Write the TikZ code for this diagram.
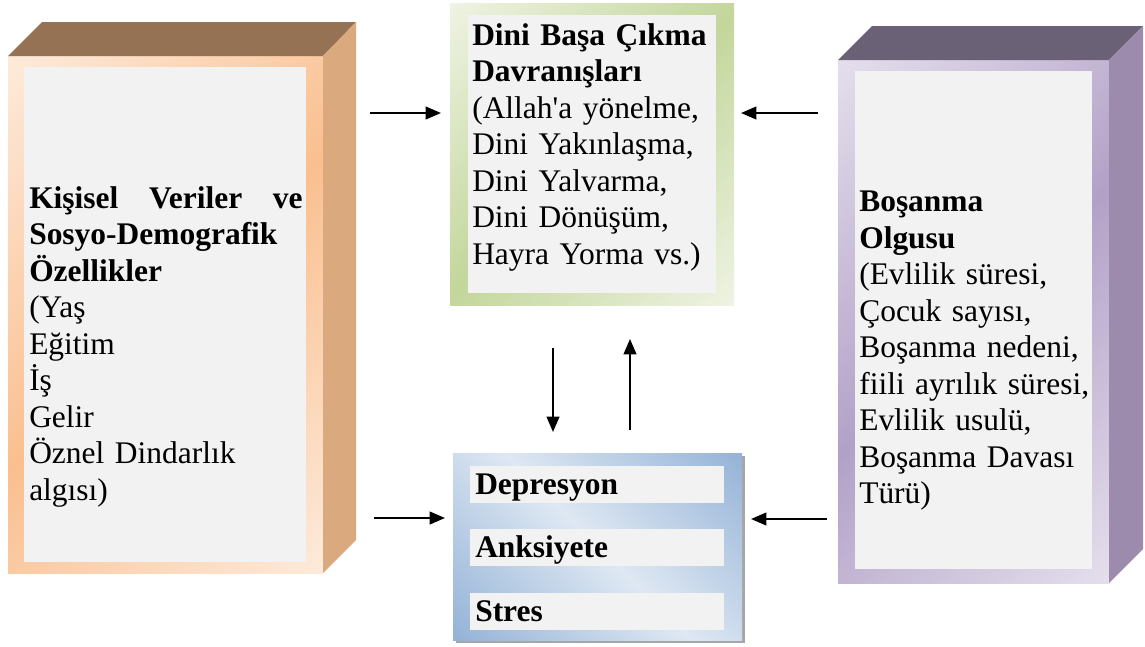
\documentclass[tikz,border=0pt]{standalone}
\usepackage{fontspec}
\setmainfont{Liberation Serif}
\usetikzlibrary{arrows.meta}
\definecolor{peachL}{RGB}{253,234,218}
\definecolor{peachD}{RGB}{250,191,143}
\definecolor{peachTop}{RGB}{149,114,84}
\definecolor{peachSide}{RGB}{219,169,126}
\definecolor{lilacL}{RGB}{228,222,236}
\definecolor{lilacD}{RGB}{178,161,199}
\definecolor{lilacTop}{RGB}{107,97,119}
\definecolor{lilacSide}{RGB}{156,139,172}
\definecolor{greenL}{RGB}{238,243,226}
\definecolor{greenD}{RGB}{195,214,155}
\definecolor{blueL}{RGB}{222,232,243}
\definecolor{blueD}{RGB}{149,179,215}
\definecolor{panel}{RGB}{242,242,242}
\pgfdeclarehorizontalshading{peachsh}{100bp}{color(0bp)=(peachL); color(15bp)=(peachL); color(50bp)=(peachD); color(85bp)=(peachL); color(100bp)=(peachL)}
\pgfdeclarehorizontalshading{lilacsh}{100bp}{color(0bp)=(lilacL); color(15bp)=(lilacL); color(50bp)=(lilacD); color(85bp)=(lilacL); color(100bp)=(lilacL)}
\pgfdeclarehorizontalshading{greensh}{100bp}{color(0bp)=(greenL); color(15bp)=(greenL); color(50bp)=(greenD); color(85bp)=(greenL); color(100bp)=(greenL)}
\pgfdeclarehorizontalshading{bluesh}{100bp}{color(0bp)=(blueD); color(15bp)=(blueD); color(50bp)=(blueL); color(85bp)=(blueD); color(100bp)=(blueD)}
\tikzset{
  oku/.style={line width=1.5pt, -{Triangle[length=11.5pt,width=9.5pt]}},
  metin/.style={anchor=base west, inner sep=0pt, align=left, font=\fontsize{23.6}{27.4}\selectfont},
  satir/.style={anchor=north west, fill=panel, inner xsep=3.75pt, inner ysep=3.4pt,
    text width=183pt, text height=18pt, text depth=3pt, align=left, font=\fontsize{23.6}{27.4}\selectfont\bfseries}
}
\begin{document}
\begin{tikzpicture}[x=0.75pt, y=-0.75pt]
    \useasboundingbox (0,0) rectangle (1145,646);
    \fill[shading=peachsh, shading angle=-45] (8,56) rectangle (323,573);
    \fill[peachTop] (8,56) -- (42,22) -- (356,22) -- (323,56) -- cycle;
    \fill[peachSide] (323,56) -- (356,22) -- (356,540) -- (323,573) -- cycle;
    \fill[panel] (24,67) rectangle (306,562);
    \fill[shading=lilacsh, shading angle=-45] (838,60) rectangle (1109,583);
    \fill[lilacTop] (838,60) -- (872,26) -- (1143,26) -- (1109,60) -- cycle;
    \fill[lilacSide] (1109,60) -- (1143,26) -- (1143,549) -- (1109,583) -- cycle;
    \fill[panel] (855,71) rectangle (1092,569);
    \fill[shading=greensh, shading angle=-45] (450,3) rectangle (734,305);
    \fill[panel] (468,15) rectangle (716,293);
    \fill[black!35] (456,456) rectangle (745,643);
    \fill[shading=bluesh, shading angle=45] (453,453) rectangle (742,640);
    \node[metin, text width=205pt] (kisisel) at (29,208)
        {\textbf{Kişisel\hfill Veriler\hfill ve}\\\textbf{Sosyo-Demografik}\\\textbf{Özellikler}\\(Yaş\\Eğitim\\İş\\Gelir\\Öznel Dindarlık\\algısı)};
    \node[metin, text width=200pt] (dini) at (472,45)
        {\textbf{Dini Başa Çıkma}\\\textbf{Davranışları}\\(Allah\textquotesingle a yönelme,\\Dini Yakınlaşma,\\Dini Yalvarma,\\Dini Dönüşüm,\\Hayra Yorma vs.)};
    \node[metin, text width=200pt] (bosanma) at (859,211.5)
        {\textbf{Boşanma}\\\textbf{Olgusu}\\(Evlilik süresi,\\Çocuk sayısı,\\Boşanma nedeni,\\fiili ayrılık süresi,\\Evlilik usulü,\\Boşanma Davası\\Türü)};
    \node[satir] (depresyon) at (470,466) {Depresyon};
    \node[satir] (anksiyete) at (470,529) {Anksiyete};
    \node[satir] (stres) at (470,593) {Stres};
    \coordinate (k1) at (370,113);
    \coordinate (d1) at (441,113);
    \coordinate (b1) at (818,113);
    \coordinate (d2) at (741,113);
    \coordinate (k2) at (374,518);
    \coordinate (s1) at (445,518);
    \coordinate (b2) at (827,519);
    \coordinate (s2) at (751,519);
    \coordinate (dAlt) at (553,348);
    \coordinate (sUst) at (553,432);
    \coordinate (sUst2) at (630,430);
    \coordinate (dAlt2) at (630,339);
    \draw[oku] (k1) -- (d1);
    \draw[oku] (b1) -- (d2);
    \draw[oku] (k2) -- (s1);
    \draw[oku] (b2) -- (s2);
    \draw[oku] (dAlt) -- (sUst);
    \draw[oku] (sUst2) -- (dAlt2);
\end{tikzpicture}
\end{document}
